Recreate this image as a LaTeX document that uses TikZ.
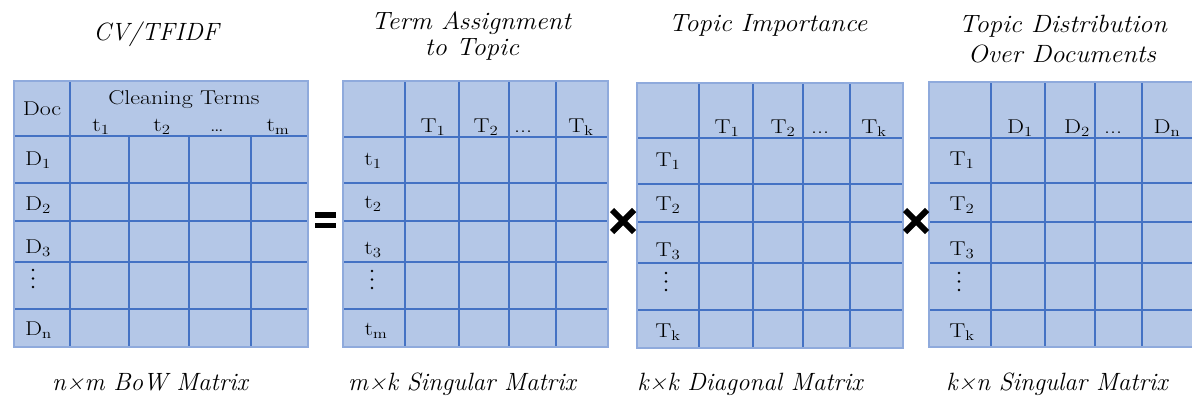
\documentclass[tikz,border=0pt]{standalone}
\definecolor{mfill}{HTML}{B4C7E7}
\definecolor{mline}{HTML}{4472C4}
\definecolor{mborder}{HTML}{8FAADC}
\newcommand{\cellt}[1]{\scalebox{1.2}[1]{#1}}
\tikzset{
  gridline/.style={draw=mline, line width=1.3pt},
  outerline/.style={draw=mborder, line width=2.6pt},
  lab/.style={font=\fontsize{20}{24}\selectfont, inner sep=0pt, anchor=base},
  rowlab/.style={font=\fontsize{20}{24}\selectfont, inner sep=0pt, anchor=base west},
  vdot/.style={fill=black, circle, inner sep=0pt, minimum size=2.8pt},
  title/.style={font=\fontsize{25}{28}\selectfont\itshape, inner sep=0pt, anchor=base},
  opmark/.style={line width=6pt, black},
}
\begin{document}
\begin{tikzpicture}[x=1pt,y=-1pt]
\useasboundingbox (0,0) rectangle (1192,402);
\clip (0,0) rectangle (1192,402);

% ---------- Matrix 1 ----------
\fill[mfill] (14,81) rectangle (308,347);
\foreach \yy in {136,183,221,262,309} \draw[gridline] (14,\yy) -- (308,\yy);
\draw[gridline] (70,81) -- (70,347);
\foreach \xx in {129,189,251} \draw[gridline] (\xx,136) -- (\xx,347);
\draw[outerline] (14,81) rectangle (308,347);
\node[lab] (m1doc) at (42,115) {\cellt{Doc}};
\node[lab] (m1ct) at (184,104) {\cellt{Cleaning Terms}};
\node[lab] (m1c1) at (101,131) {\cellt{t\textsubscript{1}}};
\node[lab] (m1c2) at (162,131) {\cellt{t\textsubscript{2}}};
\node[lab] (m1c3) at (217,131) {\cellt{\dots}};
\node[lab] (m1c4) at (278,131) {\cellt{t\textsubscript{m}}};
\node[rowlab] (m1r1) at (25,165) {\cellt{D\textsubscript{1}}};
\node[rowlab] (m1r2) at (25,210) {\cellt{D\textsubscript{2}}};
\node[rowlab] (m1r3) at (25,253) {\cellt{D\textsubscript{3}}};
\node[vdot] (m1d1) at (33,270) {};
\node[vdot] (m1d2) at (33,278.5) {};
\node[vdot] (m1d3) at (33,287) {};
\node[rowlab] (m1r5) at (25,335) {\cellt{D\textsubscript{n}}};

% ---------- Matrix 2 ----------
\fill[mfill] (343,81) rectangle (608,347);
\foreach \yy in {137,183,221,262,309} \draw[gridline] (343,\yy) -- (608,\yy);
\foreach \xx in {405,459,509,556} \draw[gridline] (\xx,81) -- (\xx,347);
\draw[outerline] (343,81) rectangle (608,347);
\node[lab] (m2c1) at (433,132) {\cellt{T\textsubscript{1}}};
\node[lab] (m2c2) at (486,132) {\cellt{T\textsubscript{2}}};
\node[lab] (m2c3) at (523,132) {\cellt{...}};
\node[lab] (m2c4) at (581,132) {\cellt{T\textsubscript{k}}};
\node[lab] (m2r1) at (373,165) {\cellt{t\textsubscript{1}}};
\node[lab] (m2r2) at (373,208) {\cellt{t\textsubscript{2}}};
\node[lab] (m2r3) at (373,254) {\cellt{t\textsubscript{3}}};
\node[vdot] (m2d1) at (372,271) {};
\node[vdot] (m2d2) at (372,279.5) {};
\node[vdot] (m2d3) at (372,288) {};
\node[lab] (m2r5) at (376,335) {\cellt{t\textsubscript{m}}};

% ---------- Matrix 3 ----------
\fill[mfill] (637,83) rectangle (903,348);
\foreach \yy in {138,184,222,263,310} \draw[gridline] (637,\yy) -- (903,\yy);
\foreach \xx in {699,753,803,850} \draw[gridline] (\xx,83) -- (\xx,348);
\draw[outerline] (637,83) rectangle (903,348);
\node[lab] (m3c1) at (727,133) {\cellt{T\textsubscript{1}}};
\node[lab] (m3c2) at (783,133) {\cellt{T\textsubscript{2}}};
\node[lab] (m3c3) at (820,133) {\cellt{...}};
\node[lab] (m3c4) at (874,133) {\cellt{T\textsubscript{k}}};
\node[lab] (m3r1) at (668,166) {\cellt{T\textsubscript{1}}};
\node[lab] (m3r2) at (668,210) {\cellt{T\textsubscript{2}}};
\node[lab] (m3r3) at (668,256) {\cellt{T\textsubscript{3}}};
\node[vdot] (m3d1) at (666,273) {};
\node[vdot] (m3d2) at (666,281.5) {};
\node[vdot] (m3d3) at (666,290) {};
\node[lab] (m3r5) at (668,337) {\cellt{T\textsubscript{k}}};

% ---------- Matrix 4 ----------
\fill[mfill] (929,82) rectangle (1200,347);
\foreach \yy in {138,183,222,263,310} \draw[gridline] (929,\yy) -- (1200,\yy);
\foreach \xx in {991,1045,1095,1142} \draw[gridline] (\xx,82) -- (\xx,347);
\draw[outerline] (929,82) rectangle (1200,347);
\node[lab] (m4c1) at (1020,133) {\cellt{D\textsubscript{1}}};
\node[lab] (m4c2) at (1077,133) {\cellt{D\textsubscript{2}}};
\node[lab] (m4c3) at (1113,133) {\cellt{...}};
\node[lab] (m4c4) at (1167,133) {\cellt{D\textsubscript{n}}};
\node[lab] (m4r1) at (962,165) {\cellt{T\textsubscript{1}}};
\node[lab] (m4r2) at (962,210) {\cellt{T\textsubscript{2}}};
\node[lab] (m4r3) at (962,255) {\cellt{T\textsubscript{3}}};
\node[vdot] (m4d1) at (959,273) {};
\node[vdot] (m4d2) at (959,281.5) {};
\node[vdot] (m4d3) at (959,290) {};
\node[lab] (m4r5) at (962,337) {\cellt{T\textsubscript{k}}};

% ---------- operators ----------
\fill[black] (315,212) rectangle (336,217.5);
\fill[black] (315,222.5) rectangle (336,228);
\draw[opmark] (612,210) -- (634,232);
\draw[opmark] (612,232) -- (634,210);
\draw[opmark] (905,210) -- (927,232);
\draw[opmark] (905,232) -- (927,210);

% ---------- titles ----------
\node[title] (t1) at (156,40) {CV/TFIDF};
\node[title] (t2a) at (471,29) {\scalebox{1.06}[1]{Term Assignment}};
\node[title] (t2b) at (472,55) {\scalebox{1.06}[1]{to Topic}};
\node[title] (t3) at (768,31) {\scalebox{1.06}[1]{Topic Importance}};
\node[title] (t4a) at (1063,32) {\scalebox{1.06}[1]{Topic Distribution}};
\node[title] (t4b) at (1062,62) {\scalebox{1.06}[1]{Over Documents}};

% ---------- bottom labels ----------
\node[title] (b1) at (150,390) {n×m BoW Matrix};
\node[title] (b2) at (462,390) {m×k Singular Matrix};
\node[title] (b3) at (750,390) {k×k Diagonal Matrix};
\node[title] (b4) at (1057,390) {k×n Singular Matrix};
\end{tikzpicture}
\end{document}
